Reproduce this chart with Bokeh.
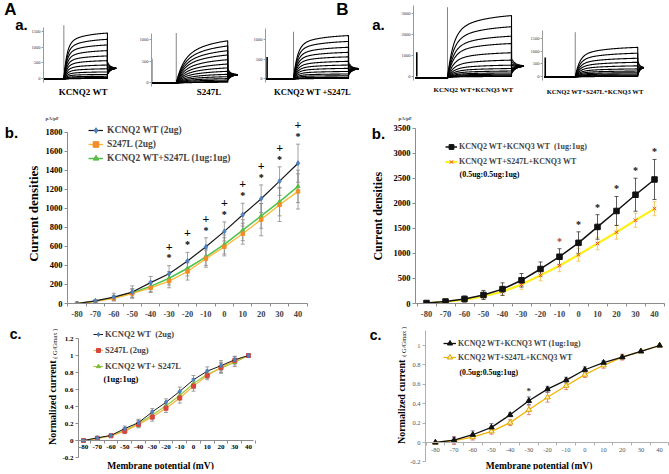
import numpy as np
from bokeh.plotting import figure
from bokeh.layouts import column, row
from bokeh.models import (Range1d, FixedTicker, Label, Legend, LegendItem, Whisker,
                          TeeHead, ColumnDataSource, CustomJSTickFormatter)
from bokeh.embed import file_html
from bokeh.resources import INLINE
from bokeh.core.properties import value

SERIF = "Liberation Serif"
SANS = "Liberation Sans"

# ---------------- data ----------------
volts = [-80, -70, -60, -50, -40, -30, -20, -10, 0, 10, 20, 30, 40]
volt_labels = ["-80", "-70", "-60", "-50", "-40", "-30", "-20", "-10", "0", "10", "20", "30", "40"]

# A.b current densities (pA/pF)
a_wt_mean = [0, 27, 67, 120, 219, 313, 447, 595, 757, 932, 1100, 1285, 1473]
a_wt_sem = [0, 10, 40, 65, 65, 85, 90, 95, 100, 120, 145, 150, 200]
a_mut_mean = [0, 22, 55, 105, 165, 235, 336, 471, 595, 733, 881, 1036, 1177]
a_mut_sem = [0, 8, 25, 45, 50, 70, 90, 90, 95, 110, 170, 175, 185]
a_mix_mean = [0, 25, 60, 112, 180, 265, 370, 490, 620, 770, 920, 1070, 1230]
a_mix_sem = [0, 8, 25, 45, 55, 70, 80, 90, 100, 110, 130, 150, 170]
a_sig_volts = [-30, -20, -10, 0, 10, 20, 30, 40]

# B.b current densities (pA/pF)
b_wt_mean = [10, 40, 90, 170, 288, 464, 690, 935, 1213, 1531, 1850, 2175, 2480]
b_wt_sem = [15, 20, 60, 90, 125, 135, 140, 160, 220, 245, 290, 330, 400]
b_mut_mean = [5, 35, 75, 140, 240, 378, 563, 756, 975, 1200, 1425, 1664, 1896]
b_mut_sem = [10, 25, 45, 60, 80, 95, 110, 120, 130, 125, 140, 140, 140]
b_sig_volts = [-10, 0, 10, 20, 30, 40]

# A.c normalized conductance (G/Gmax)
ac_wt = [0, 0.03, 0.06, 0.14, 0.21, 0.336, 0.45, 0.578, 0.715, 0.816, 0.88, 0.95, 1.0]
ac_wt_sem = [0, 0.02, 0.02, 0.03, 0.04, 0.04, 0.04, 0.05, 0.05, 0.05, 0.06, 0.04, 0]
ac_mut = [0, 0.025, 0.055, 0.11, 0.19, 0.277, 0.38, 0.50, 0.64, 0.765, 0.86, 0.94, 1.0]
ac_mut_sem = [0, 0.02, 0.02, 0.03, 0.04, 0.05, 0.05, 0.06, 0.06, 0.05, 0.06, 0.05, 0]
ac_mix = [0, 0.028, 0.058, 0.12, 0.20, 0.30, 0.41, 0.53, 0.67, 0.78, 0.85, 0.92, 1.0]
ac_mix_sem = [0, 0.02, 0.02, 0.03, 0.04, 0.05, 0.05, 0.05, 0.06, 0.05, 0.06, 0.05, 0]
c_yticks = [-0.2, 0, 0.2, 0.4, 0.6, 0.8, 1, 1.2]

# B.c normalized conductance (G/Gmax)
bc_wt = [0, 0.025, 0.08, 0.156, 0.285, 0.43, 0.55, 0.643, 0.75, 0.823, 0.88, 0.94, 1.0]
bc_wt_sem = [0, 0.03, 0.04, 0.04, 0.02, 0.04, 0.03, 0.03, 0.03, 0.02, 0.02, 0.01, 0]
bc_mut = [0, 0.02, 0.055, 0.115, 0.205, 0.337, 0.466, 0.585, 0.70, 0.796, 0.88, 0.94, 1.0]
bc_mut_sem = [0, 0.04, 0.03, 0.03, 0.03, 0.05, 0.05, 0.04, 0.03, 0.03, 0.03, 0.01, 0]
bc_yticks = [-0.2, 0, 0.2, 0.4, 0.6, 0.8, 1]
bc_sig_volts = [-30]

# a. raw current traces: steady-state amplitude of each sweep (pA)
tr_a1 = [1450, 1250, 1070, 890, 720, 570, 430, 310, 210, 130, 70, 30, 10, 0]
tr_a2 = [970, 850, 740, 640, 530, 430, 340, 260, 190, 135, 90, 55, 25, 5]
tr_a3 = [1100, 950, 800, 670, 555, 440, 345, 260, 180, 115, 70, 30, 10, 0]
tr_b1 = [2900, 2370, 1920, 1570, 1130, 780, 540, 380, 260, 170, 110, 60, 25, 0]
tr_b2 = [1150, 920, 720, 560, 420, 300, 215, 150, 100, 60, 30, 10, 0]
trace_sets = [tr_a1, tr_a2, tr_a3, tr_b1, tr_b2]
trace_titles = ["KCNQ2 WT", "S247L", "KCNQ2 WT +S247L", "KCNQ2 WT+KCNQ3 WT", "KCNQ2 WT+S247L+KCNQ3 WT"]
trace_ticks = [[0, 500, 1000, 1500], [0, 500, 1000], [0, 500, 1000], [0, 1000, 2000, 3000], [0, 500, 1000, 1500]]
trace_spike = [1700, 1150, 1200, 3300, 1750]     # capacitive transient at step onset
trace_art = [850, 550, 550, 1150, 750]           # transient at recording start
trace_tail = [330, 180, 250, 500, 350]           # tail current level
trace_spread = [400, 260, 320, 700, 600]
trace_kin = [(0.75, 0.07, 0.45), (0.5, 0.13, 0.6), (0.75, 0.07, 0.45), (0.7, 0.09, 0.5), (0.7, 0.07, 0.45)]
t_on, t_off, t_art = 0.5, 1.5, 0.02


# ---------------- helpers ----------------
def lin(p, pa, va, pb, vb):
    return va + (p - pa) * (vb - va) / (pb - pa)


def make_panel(win, frame, xcal, ycal, x_axis=True):
    wx0, wy0, wx1, wy1 = win
    fx0, fy0, fx1, fy1 = frame
    xr = (lin(fx0, *xcal), lin(fx1, *xcal))
    yr = (lin(fy1, *ycal), lin(fy0, *ycal))
    kw = {} if x_axis else {"x_axis_type": None}
    p = figure(width=wx1 - wx0, height=wy1 - wy0, x_range=Range1d(*xr), y_range=Range1d(*yr),
               output_backend="svg", toolbar_location=None,
               min_border_left=fx0 - wx0, min_border_right=wx1 - fx1,
               min_border_top=fy0 - wy0, min_border_bottom=wy1 - fy1, **kw)
    p.outline_line_color = None
    p.xgrid.visible = False
    p.ygrid.visible = False
    p.background_fill_color = "white"
    p.border_fill_color = "white"
    return p, dict(frame=frame, xcal=xcal, ycal=ycal)


def text_fig(x0, y0, x1, y1):
    p = figure(width=x1 - x0, height=y1 - y0, x_range=Range1d(x0, x1), y_range=Range1d(y1, y0),
               output_backend="svg", toolbar_location=None, x_axis_type=None, y_axis_type=None,
               min_border_left=0, min_border_right=0, min_border_top=0, min_border_bottom=0)
    p.outline_line_color = None
    p.background_fill_color = "white"
    p.border_fill_color = "white"
    return p, dict(frame=(x0, y0, x1, y1), xcal=(x0, x0, x1, x1), ycal=(y0, y0, y1, y1))


def gtext(p, info, wx, wy, text, size, font=SERIF, style="bold", align="center", angle=0.0,
          color="black"):
    p.text(x=[lin(wx, *info["xcal"])], y=[lin(wy, *info["ycal"])], text=[text],
           text_font=value(font), text_font_style=style, text_font_size=size, text_align=align,
           text_baseline="middle", angle=angle, text_color=color)


def put(p, info, wx, wy, text, size, font=SERIF, style="bold", align="center", color="black"):
    fx0, fy0, fx1, fy1 = info["frame"]
    p.add_layout(Label(x=wx - fx0, y=fy1 - wy, x_units="screen", y_units="screen", text=text,
                       text_font=font, text_font_style=style, text_font_size=size,
                       text_align=align, text_baseline="middle", text_color=color))


def series(p, y, err, lc, lw, marker, ms, mfill, mline, wc):
    src = ColumnDataSource(dict(x=volts, y=y, up=[a + b for a, b in zip(y, err)],
                                lo=[a - b for a, b in zip(y, err)]))
    p.add_layout(Whisker(source=src, base="x", upper="up", lower="lo", line_color=wc, line_width=0.8,
                         upper_head=TeeHead(size=4, line_color=wc, line_width=0.8),
                         lower_head=TeeHead(size=4, line_color=wc, line_width=0.8)))
    lr = p.line("x", "y", source=src, line_color=lc, line_width=lw)
    sr = p.scatter("x", "y", source=src, marker=marker, size=ms, fill_color=mfill, line_color=mline)
    return [lr, sr]


def add_legend(p, info, items, left, top, row_h, glyph_w, standoff, size):
    fx0, fy0, fx1, fy1 = info["frame"]
    h = row_h * len(items)
    leg = Legend(items=[LegendItem(label=t, renderers=r) for t, r in items],
                 location=(int(round(left - fx0)), int(round(fy1 - (top + h)))))
    leg.border_line_color = None
    leg.background_fill_alpha = 0
    leg.padding = 0
    leg.margin = 0
    leg.spacing = 0
    leg.glyph_width = glyph_w
    leg.glyph_height = row_h
    leg.label_height = row_h
    leg.label_standoff = standoff
    leg.label_text_font = SERIF
    leg.label_text_font_style = "bold"
    leg.label_text_font_size = size
    p.add_layout(leg)


def style_y(ax, ticks, bounds, size, color="black", style="bold", line="#8c8c8c"):
    ax.ticker = FixedTicker(ticks=ticks)
    ax.bounds = bounds
    ax.major_tick_out = 3
    ax.major_tick_in = 0
    ax.minor_tick_out = 0
    ax.minor_tick_in = 0
    ax.axis_line_color = line
    ax.major_tick_line_color = line
    ax.major_label_text_font = SERIF
    ax.major_label_text_font_style = style
    ax.major_label_text_font_size = size
    ax.major_label_text_color = color
    ax.major_label_standoff = 2


def style_x(ax, bounds, line="#8c8c8c", labels=True):
    bnd = [v - 5 for v in volts] + [volts[-1] + 5]
    ax.ticker = FixedTicker(ticks=volts if labels else [], minor_ticks=bnd)
    ax.bounds = bounds
    ax.major_tick_out = 0
    ax.major_tick_in = 0
    ax.minor_tick_out = 3
    ax.minor_tick_in = 0
    ax.axis_line_color = line
    ax.minor_tick_line_color = line
    if labels:
        ax.major_label_overrides = dict(zip(volts, volt_labels))
        ax.major_label_text_font = SERIF
        ax.major_label_text_font_style = "bold"
        ax.major_label_text_font_size = "8.5px"
        ax.major_label_standoff = 4
    else:
        ax.major_label_standoff = 0


# ---------------- row 1: raw traces ----------------
LA, iLA = text_fig(0, 0, 28, 104)
gtext(LA, iLA, 10, 9, "A", "17px", font=SANS)
gtext(LA, iLA, 21, 24, "a.", "15px", font=SANS)

trace_layout = [
    ((28, 0, 136, 104), 40, (61, 0.5, 106, 1.5), (78, 0, 31, 1500), (27, 82), 0.2, (81, 91), "9px"),
    ((136, 0, 250, 104), 150, (175, 0.5, 227, 1.5), (82, 0, 39, 1000), (33, 86), 0.19, (208, 91), "9px"),
    ((250, 0, 392, 104), 265, (293, 0.5, 348, 1.5), (78, 0, 39, 1000), (28, 82), 0.18, (312, 91), "8.6px"),
    ((392, 0, 527, 104), 413, (447, 0.5, 511, 1.5), (76, 0, 13, 3000), (5, 80), 0.19, (473, 89), "7px"),
    ((527, 0, 669, 104), 541, (574, 0.5, 637, 1.5), (76, 0, 38, 1500), (30, 80), 0.09, (594, 91), "6.6px"),
]
trace_figs = []
for i, (win, fl, tcal, ycal, apx, tail_dur, lab, lsize) in enumerate(trace_layout):
    p, info = make_panel(win, (fl, win[1], win[2], win[3]), tcal, ycal, x_axis=False)
    finals = trace_sets[i]
    fmax = max(finals)
    base = -0.02 * fmax
    a, tau1, tau2 = trace_kin[i]
    t_pre = np.linspace(0, t_on, 30)
    t_st = np.linspace(t_on, t_off, 160)
    t_tl = np.linspace(t_off, t_off + tail_dur, 25)
    dt = t_st - t_on
    g = 1 - a * np.exp(-dt / tau1) - (1 - a) * np.exp(-dt / tau2)
    g = g / g[-1]
    c, sp = trace_tail[i], trace_spread[i]
    xs, ys = [], []
    for F in finals:
        y_st = base + (F - base) * g
        T0 = c + (F / fmax - 0.5) * sp
        y_tl = c + (T0 - c) * np.exp(-(t_tl - t_off) / (tail_dur / 3))
        xs.append(np.concatenate([t_pre, t_st, t_tl]))
        ys.append(np.concatenate([np.full_like(t_pre, base), y_st, y_tl]))
    p.segment(x0=[t_on], y0=[base], x1=[t_on], y1=[trace_spike[i]], line_color="#666", line_width=0.8)
    p.multi_line(xs, ys, line_color="black", line_width=1.1)
    p.segment(x0=[t_art], y0=[0], x1=[t_art], y1=[trace_art[i]], line_color="black", line_width=1.6)
    ya = p.yaxis[0]
    ya.ticker = FixedTicker(ticks=trace_ticks[i])
    ya.bounds = (lin(apx[1], *ycal), lin(apx[0], *ycal))
    ya.major_tick_out = 2
    ya.major_tick_in = 0
    ya.minor_tick_out = 0
    ya.minor_tick_in = 0
    ya.axis_line_color = "#999"
    ya.major_tick_line_color = "#999"
    ya.major_label_text_font = SERIF
    ya.major_label_text_font_size = "4.5px"
    ya.major_label_text_color = "#333"
    ya.major_label_standoff = 1
    gtext(p, info, lab[0], lab[1], trace_titles[i], lsize)
    trace_figs.append((p, info))

gtext(*trace_figs[2], 342, 9, "B", "17px", font=SANS)
gtext(*trace_figs[2], 378, 24, "a.", "15px", font=SANS)

# ---------------- row 2: current densities ----------------
LB, iLB = text_fig(0, 104, 42, 322)
gtext(LB, iLB, 11, 118, "b.", "15px", font=SANS)
gtext(LB, iLB, 33, 215, "Current densities", "13px", angle=np.pi / 2)

cal = (76.5, -80, 297.5, 40)
L2, iL2 = make_panel((42, 104, 335, 322), (67, 113, 335, 303), cal, (303, 0, 125, 1800))
style_y(L2.yaxis[0], list(range(0, 1801, 200)), (0, 1800), "8.5px")
style_x(L2.xaxis[0], (lin(67, *cal), 45))
r_mix = series(L2, a_mix_mean, a_mix_sem, "#4CC34C", 1.5, "triangle", 4, "#5DBB46", "#5DBB46", "#8a8a8a")
r_mut = series(L2, a_mut_mean, a_mut_sem, "#FFB733", 1.3, "square", 3.5, "#F28C28", "#F28C28", "#8a8a8a")
r_wt = series(L2, a_wt_mean, a_wt_sem, "#1a1a1a", 1.2, "diamond", 5, "#4F81BD", "#4F81BD", "#8a8a8a")
idx = [volts.index(v) for v in a_sig_volts]
top = [a_wt_mean[k] + a_wt_sem[k] for k in idx]
L2.text(x=a_sig_volts, y=[t + 200 for t in top], text=["+"] * len(idx), text_font=value(SERIF),
        text_font_style="bold", text_font_size="12px", text_align="center", text_baseline="middle",
        text_color="black")
L2.text(x=a_sig_volts, y=[t + 80 for t in top], text=["*"] * len(idx), text_font=value(SERIF),
        text_font_style="bold", text_font_size="10px", text_align="center", text_baseline="middle",
        text_color="black")
add_legend(L2, iL2, [("KCNQ2 WT (2ug)", r_wt), ("S247L (2ug)", r_mut),
                     ("KCNQ2 WT+S247L (1ug:1ug)", r_mix)], 88, 123, 14, 15, 4, "9.5px")
L2.title.text = "pA/pF"
L2.title.align = "left"
L2.title.offset = 45 - 67
L2.title.standoff = 0
L2.title.text_font = SERIF
L2.title.text_font_style = "bold"
L2.title.text_font_size = "5px"

RB, iRB = text_fig(335, 104, 390, 322)
gtext(RB, iRB, 378, 119, "b.", "15px", font=SANS)
gtext(RB, iRB, 377, 218, "Current densities", "12px", angle=np.pi / 2)

cal = (426, -80, 654, 40)
R2, iR2 = make_panel((390, 104, 669, 322), (415, 120, 669, 304), cal, (304, 0, 128, 3500))
style_y(R2.yaxis[0], list(range(0, 3501, 500)), (0, 3500), "8.5px")
style_x(R2.xaxis[0], (lin(415, *cal), 45))
r_bm = series(R2, b_mut_mean, b_mut_sem, "#FFEF1A", 2.2, "x", 5, "#E8412C", "#E8412C", "#F2C14E")
r_bw = series(R2, b_wt_mean, b_wt_sem, "#111111", 1.5, "square", 5.5, "#111111", "#111111", "#333333")
idx = [volts.index(v) for v in b_sig_volts]
R2.text(x=b_sig_volts, y=[b_wt_mean[k] + b_wt_sem[k] + 150 for k in idx], text=["*"] * len(idx),
        text_font=value(SERIF), text_font_style="bold", text_font_size="10px", text_align="center",
        text_baseline="middle", text_color=["#C0392B"] + ["#111"] * (len(idx) - 1))
add_legend(R2, iR2, [("KCNQ2 WT+KCNQ3 WT\u00a0 (1ug:1ug)", r_bw),
                     ("KCNQ2 WT+S247L+KCNQ3 WT", r_bm)], 445, 140, 15, 12, 2, "8px")
put(R2, iR2, 459, 175, "(0.5ug:0.5ug:1ug)", "8px", align="left")
R2.title.text = "pA/pF"
R2.title.align = "left"
R2.title.offset = 398 - 415
R2.title.standoff = 0
R2.title.text_font = SERIF
R2.title.text_font_style = "bold"
R2.title.text_font_size = "5px"

# ---------------- row 3: normalized conductance ----------------
fmt = CustomJSTickFormatter(code="return (Math.round(tick*10)/10).toString();")

LC, iLC = text_fig(0, 322, 58, 474)
gtext(LC, iLC, 15, 334, "c.", "14px", font=SANS)
gtext(LC, iLC, 52, 405, "Normalized current", "10px", angle=np.pi / 2)
gtext(LC, iLC, 54, 344, "( G/Gmax )", "6.5px", style="normal", angle=np.pi / 2)

cal = (83, -80, 248, 40)
ycal = (440, 0, 338, 1.2)
L3, iL3 = make_panel((58, 322, 335, 474), (78, 322, 335, 469), cal, ycal)
style_y(L3.yaxis[0], c_yticks, (-0.2, 1.2), "7px")
L3.yaxis[0].formatter = fmt
style_x(L3.xaxis[0], (lin(78, *cal), lin(253, *cal)), labels=False)
L3.xaxis[0].fixed_location = 0
r3_mix = series(L3, ac_mix, ac_mix_sem, "#9CCB3C", 1.2, "triangle", 4, "#7DB940", "#7DB940", "#8a8a8a")
r3_mut = series(L3, ac_mut, ac_mut_sem, "#F5B041", 1.2, "square", 4, "#D9453C", "#D9453C", "#8a8a8a")
r3_wt = series(L3, ac_wt, ac_wt_sem, "#1a1a1a", 1.0, "diamond", 4.5, "#4F81BD", "#4F81BD", "#8a8a8a")
L3.text(x=volts, y=[0] * len(volts), text=volt_labels, text_font=value(SERIF), text_font_style="bold",
        text_font_size="7px", text_align="center", text_baseline="top", y_offset=4)
add_legend(L3, iL3, [("KCNQ2 WT\u00a0 (2ug)", r3_wt), ("S247L (2ug)", r3_mut),
                     ("KCNQ2 WT+ S247L", r3_mix)], 93, 326, 16, 10, 2, "8.5px")
put(L3, iL3, 103, 378, "(1ug:1ug)", "8.5px", align="left")
gtext(L3, iL3, 160, 465, "Membrane potential (mV)", "9.5px")

RC, iRC = text_fig(335, 322, 407, 474)
gtext(RC, iRC, 375, 335, "c.", "14px", font=SANS)
gtext(RC, iRC, 401, 404, "Normalized current", "10px", angle=np.pi / 2)
gtext(RC, iRC, 403, 342, "( G/Gmax )", "6.5px", style="normal", angle=np.pi / 2)

cal = (432, -80, 659, 40)
ycal = (442, 0, 345, 1)
R3, iR3 = make_panel((407, 322, 669, 474), (422, 322, 669, 469), cal, ycal)
style_y(R3.yaxis[0], bc_yticks, (-0.2, 1.15), "6.5px", color="#555", style="normal", line="#b0b0b0")
R3.yaxis[0].formatter = fmt
style_x(R3.xaxis[0], (lin(422, *cal), lin(668, *cal)), line="#b0b0b0", labels=False)
R3.xaxis[0].fixed_location = 0
r3_bm = series(R3, bc_mut, bc_mut_sem, "#F4B400", 1.3, "triangle", 5.5, "#FFF3B0", "#D9A300", "#E06666")
r3_bw = series(R3, bc_wt, bc_wt_sem, "#111111", 1.3, "triangle", 5.5, "#111111", "#111111", "#5A6B8C")
R3.text(x=volts, y=[0] * len(volts), text=volt_labels, text_font=value(SERIF),
        text_font_size="6.5px", text_align="center", text_baseline="top", y_offset=5, text_color="#555")
idx = [volts.index(v) for v in bc_sig_volts]
R3.text(x=bc_sig_volts, y=[bc_wt[k] + bc_wt_sem[k] + 0.06 for k in idx], text=["*"] * len(idx),
        text_font=value(SERIF), text_font_style="bold", text_font_size="9px", text_align="center",
        text_baseline="middle", text_color="#333")
add_legend(R3, iR3, [("KCNQ2 WT+KCNQ3 WT (1ug:1ug)", r3_bw),
                     ("KCNQ2 WT+S247L+KCNQ3 WT", r3_bm)], 440, 336, 14, 13, 2, "7.8px")
put(R3, iR3, 456, 372, "(0.5ug:0.5ug:1ug)", "7.8px", align="left")
gtext(R3, iR3, 537, 465, "Membrane potential (mV)", "9.5px")

layout = column(row(LA, *[f for f, _ in trace_figs]), row(LB, L2, RB, R2), row(LC, L3, RC, R3))
open("out.html", "w").write(file_html(layout, INLINE))
